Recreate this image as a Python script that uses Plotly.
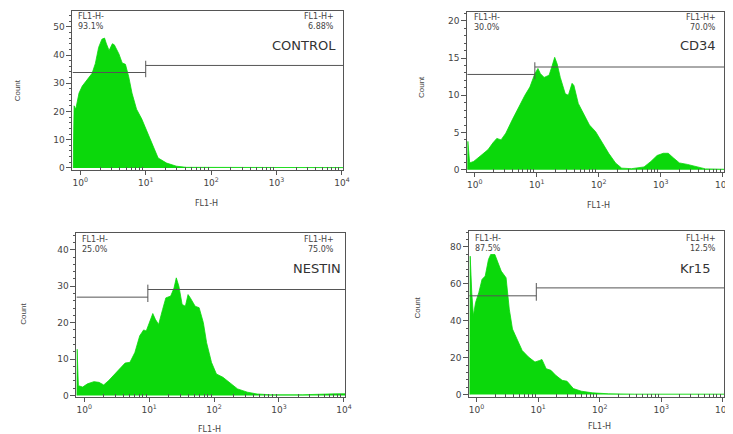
import numpy as np
import plotly.graph_objects as go
from plotly.subplots import make_subplots

# ---- data (x in log10 of FL1-H, y = count) ----
control_logx = [-0.11, -0.095, -0.07, -0.02, 0.03, 0.08, 0.13, 0.18, 0.23, 0.28, 0.33, 0.37, 0.40,
                0.44, 0.49, 0.52, 0.59, 0.64, 0.69, 0.74, 0.79, 0.86, 0.94, 1.02, 1.12, 1.19,
                1.32, 1.47, 1.62, 2.0, 3.0, 4.02]
control_count = [0, 22, 20.8, 26.5, 29.0, 30.6, 32.0, 33.5, 37, 42.7, 45.6, 46, 43.9,
                 41.6, 44, 43.6, 40.4, 37.2, 36.7, 32.3, 26.5, 20.8, 17.3, 12.7, 6.9, 3.5,
                 1.7, 0.6, 0.2, 0.15, 0.1, 0.1]

cd34_logx = [-0.115, -0.11, -0.08, -0.016, 0.087, 0.217, 0.295, 0.357, 0.425, 0.502, 0.606, 0.71,
             0.81, 0.89, 0.97, 1.02, 1.06, 1.12, 1.20, 1.25, 1.29, 1.33, 1.38, 1.46, 1.51, 1.57,
             1.60, 1.67, 1.75, 1.85, 1.95, 2.06, 2.16, 2.27, 2.37, 2.53, 2.73, 2.84, 2.94,
             3.04, 3.12, 3.20, 3.30, 3.43, 3.56, 3.72, 4.02]
cd34_count = [0, 3.8, 0.9, 1.1, 1.8, 2.7, 3.6, 4.2, 4.0, 4.9, 6.7, 8.4,
              10, 11.1, 12.9, 13.6, 12.9, 12.4, 12.7, 14, 15.1, 14.2, 12.4, 10.2, 10, 11.6,
              11.3, 8.9, 7.6, 6, 5.1, 3.6, 2.2, 0.9, 0.2, 0.13, 0.36, 1.1, 1.9,
              2.2, 2.2, 1.6, 0.9, 0.7, 0.4, 0.1, 0.05]

nestin_logx = [-0.115, -0.11, -0.09, -0.025, 0.05, 0.15, 0.227, 0.30, 0.377, 0.45, 0.553, 0.629,
               0.704, 0.78, 0.855, 0.915, 0.955, 1.006, 1.056, 1.096, 1.146, 1.207, 1.257, 1.332,
               1.383, 1.418, 1.458, 1.508, 1.558, 1.599, 1.634, 1.709, 1.77, 1.835, 1.885, 1.96,
               2.036, 2.136, 2.236, 2.362, 2.513, 2.664, 2.865, 3.367, 3.87, 4.02]
nestin_count = [0, 12.7, 2.7, 2.3, 3.2, 3.8, 3.6, 2.9, 4.1, 5.5, 7.3, 8.9,
                9.1, 11.8, 16.4, 18, 17.7, 20, 22.5, 20.9, 19.5, 23.6, 26.8, 27.3,
                29.5, 32.3, 30, 25, 24.5, 27.7, 26.8, 24.5, 24.1, 20, 14.5, 9.1,
                5.9, 5, 3.6, 1.8, 0.9, 0.4, 0.2, 0.2, 0.45, 0.45]

kr15_logx = [-0.11, -0.104, -0.078, -0.052, -0.016, 0.036, 0.088, 0.14, 0.193, 0.229, 0.297, 0.349,
             0.40, 0.479, 0.531, 0.583, 0.661, 0.74, 0.844, 0.948, 1.026, 1.062, 1.13, 1.208,
             1.286, 1.39, 1.469, 1.573, 1.703, 1.885, 2.146, 2.562, 4.02]
kr15_count = [0, 75, 55, 42.7, 49.9, 55.2, 62.4, 64.2, 73.2, 75.9, 75.9, 71.4,
              66.9, 63.3, 46.3, 35.5, 29.2, 23.9, 20.3, 17.6, 18.5, 19, 14, 13.1,
              10.4, 7.7, 7.2, 3.2, 1.8, 0.9, 0.4, 0.2, 0.2]

panel_names = ['CONTROL', 'CD34', 'NESTIN', 'Kr15']
neg_pct = ['93.1%', '30.0%', '25.0%', '87.5%']
pos_pct = ['6.88%', '70.0%', '75.0%', '12.5%']
gate_logx = [1.0, 0.97, 0.98, 0.97]
gate_left_y = [33.8, 12.8, 27.0, 53.5]
gate_right_y = [36.3, 13.8, 29.1, 57.8]
y_max = [55.6, 21.2, 44.5, 88.4]
y_min = [-0.7, -0.3, -0.5, -1.5]
y_dtick = [10, 5, 10, 20]
y_minor = [2, 1, 2, 4]
x_ticks = [1, 10, 100, 1000, 10000]
x_ticktext = ['10<sup>0</sup>', '10<sup>1</sup>', '10<sup>2</sup>', '10<sup>3</sup>', '10<sup>4</sup>']
x_minor = [m * d for d in [1, 10, 100, 1000] for m in range(2, 10)]

logx_all = [control_logx, cd34_logx, nestin_logx, kr15_logx]
count_all = [control_count, cd34_count, nestin_count, kr15_count]

W, H = 733, 434
X_LO, X_HI = -0.12, 4.02
GREEN = '#0bd80b'
GREY = '#555555'
FONT = 'DejaVu Sans'

# plot boxes in pixels (left, right, top, bottom)
boxes = [(65, 338, 3, 163), (463, 722, 4, 165), (69, 340, 227, 392), (465, 722, 225, 392)]

fig = make_subplots(rows=2, cols=2)
pos = [(1, 1), (1, 2), (2, 1), (2, 2)]

for i in range(4):
    r, c = pos[i]
    x = 10 ** np.array(logx_all[i])
    fig.add_trace(go.Scatter(
        x=x, y=count_all[i], mode='lines', fill='tozeroy',
        line=dict(color=GREEN, width=0.8), fillcolor=GREEN,
        hoverinfo='skip', showlegend=False
    ), row=r, col=c)

    # gate marker
    gx = 10 ** gate_logx[i]
    lo, hi = 10 ** X_LO, 10 ** X_HI
    fig.add_trace(go.Scatter(
        x=[lo, gx, None, gx, hi, None, gx, gx],
        y=[gate_left_y[i], gate_left_y[i], None, gate_right_y[i], gate_right_y[i], None,
           gate_left_y[i] - 0.03 * y_max[i], gate_right_y[i] + 0.03 * y_max[i]],
        mode='lines', line=dict(color=GREY, width=1), hoverinfo='skip', showlegend=False
    ), row=r, col=c)

    L, R, T, B = boxes[i]
    xd = [L / W, R / W]
    yd = [1 - B / H, 1 - T / H]
    fig.update_xaxes(
        type='log', range=[X_LO, X_HI], domain=xd,
        tickvals=x_ticks, ticktext=x_ticktext,
        ticks='outside', ticklen=4, tickcolor=GREY,
        minor=dict(ticks='inside', ticklen=3, tickvals=x_minor, tickcolor=GREY),
        showline=True, linecolor=GREY, linewidth=1, mirror=True,
        showgrid=False, zeroline=False,
        tickfont=dict(family=FONT, size=9, color='#444'),
        row=r, col=c)
    fig.update_yaxes(
        range=[y_min[i], y_max[i]], domain=yd, dtick=y_dtick[i], tick0=0,
        ticks='outside', ticklen=5, tickcolor=GREY,
        minor=dict(ticks='outside', ticklen=2, dtick=y_minor[i], tickcolor=GREY),
        showline=True, linecolor=GREY, linewidth=1, mirror=True,
        showgrid=False, zeroline=False,
        tickfont=dict(family=FONT, size=9, color='#444'),
        row=r, col=c)

# text labels placed in pixel positions
ann = []
def px(x, y):
    return x / W, 1 - y / H

texts = [
    dict(neg=(69, 9), posr=(331, 9), name=(333, 38), count=(10, 83), fl=(200, 197)),
    dict(neg=(468, 10), posr=(716, 10), name=(716, 38), count=(417, 80), fl=(595, 199)),
    dict(neg=(73, 233), posr=(331, 233), name=(338, 262), count=(16, 308), fl=(203, 424)),
    dict(neg=(469, 232), posr=(716, 232), name=(710, 262), count=(413, 302), fl=(596, 421)),
]

small = dict(family=FONT, size=8, color='#444')
for i, t in enumerate(texts):
    x, y = px(*t['neg'])
    y2 = px(0, t['neg'][1] + 10)[1]
    ann.append(dict(x=x, y=y, xref='paper', yref='paper', xanchor='left', yanchor='middle',
                    text='FL1-H-', showarrow=False, font=small))
    ann.append(dict(x=x, y=y2, xref='paper', yref='paper', xanchor='left', yanchor='middle',
                    text=neg_pct[i], showarrow=False, font=small))
    x, y = px(*t['posr'])
    y2 = px(0, t['posr'][1] + 10)[1]
    ann.append(dict(x=x, y=y, xref='paper', yref='paper', xanchor='right', yanchor='middle',
                    text='FL1-H+', showarrow=False, font=small))
    ann.append(dict(x=x, y=y2, xref='paper', yref='paper', xanchor='right', yanchor='middle',
                    text=pos_pct[i], showarrow=False, font=small))
    x, y = px(*t['name'])
    ann.append(dict(x=x, y=y, xref='paper', yref='paper', xanchor='right', yanchor='middle',
                    text=panel_names[i], showarrow=False,
                    font=dict(family=FONT, size=13, color='#333')))
    x, y = px(*t['count'])
    ann.append(dict(x=x, y=y, xref='paper', yref='paper', xanchor='center', yanchor='middle',
                    text='Count', textangle=-90, showarrow=False,
                    font=dict(family='Liberation Sans Narrow, Liberation Sans', size=8, color='#444')))
    x, y = px(*t['fl'])
    ann.append(dict(x=x, y=y, xref='paper', yref='paper', xanchor='center', yanchor='middle',
                    text='FL1-H', showarrow=False, font=small))

fig.update_layout(
    width=W, height=H,
    margin=dict(l=0, r=0, t=0, b=0),
    paper_bgcolor='white', plot_bgcolor='white',
    annotations=ann,
    showlegend=False
)

fig.write_html("out.html", config={'displayModeBar': False})
